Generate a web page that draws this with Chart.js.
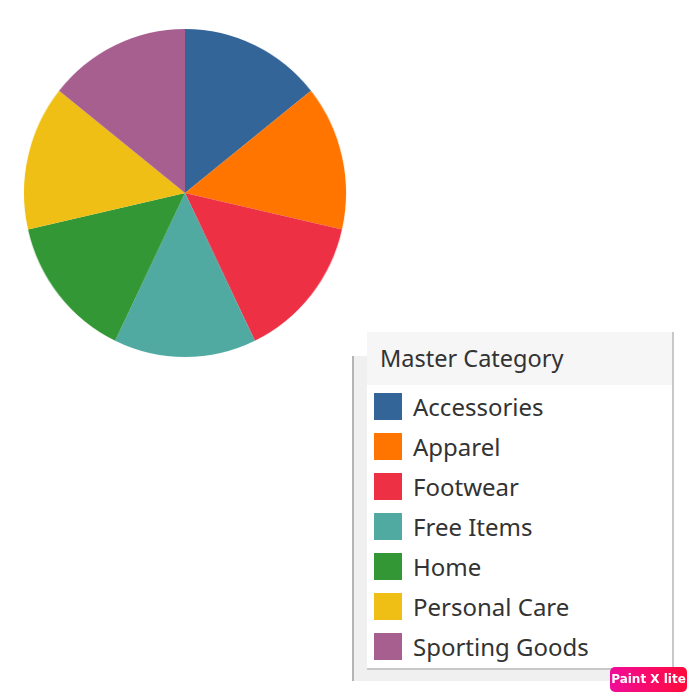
<!DOCTYPE html>
<html>
<head>
<meta charset="utf-8">
<script src="https://cdn.jsdelivr.net/npm/chart.js@4/dist/chart.umd.min.js"></script>
<style>
  html, body { margin: 0; padding: 0; background: #fff; width: 700px; height: 700px; overflow: hidden; }
  #wrap { position: relative; width: 700px; height: 700px; }
  #pie { position: absolute; left: 0; top: 0; width: 700px; height: 700px; transform: scaleX(0.982); transform-origin: 184.5px 193px; }
  #c { position: absolute; left: 0; top: 0; }
  #outer { position: absolute; left: 352px; top: 356px; width: 321px; height: 325px; background: #f0f0f0; border-left: 2px solid #b4b4b4; box-sizing: border-box; }
  #legend { position: absolute; left: 367px; top: 332px; width: 307px; height: 338px; background: #fff; border-right: 2px solid #c8c8c8; border-bottom: 2px solid #c8c8c8; box-sizing: border-box; font-family: "Noto Sans", sans-serif; color: #333; }
  #legend .title { height: 53px; background: #f6f6f6; font-size: 23.5px; line-height: 53px; padding-left: 13px; }
  #legend .item { position: absolute; left: 7px; height: 28px; }
  #legend .sw { position: absolute; left: 0; top: 0; width: 28px; height: 27px; }
  #legend .lb { position: absolute; left: 39px; top: -2px; font-size: 24px; line-height: 32px; white-space: nowrap; }
  #badge { position: absolute; left: 610px; top: 667px; width: 77px; height: 25px; border-radius: 5px; background: linear-gradient(90deg, #f00c9a, #ff0a3a); color: #fff; font: bold 12px "DejaVu Sans", sans-serif; text-align: center; line-height: 25px; }
</style>
</head>
<body>
<div id="wrap">
  <div id="pie"><canvas id="c" width="700" height="700"></canvas></div>
  <div id="outer"></div>
  <div id="legend"><div class="title">Master Category</div></div>
  <div id="badge">Paint X lite</div>
</div>
<script>
const categories = ["Accessories", "Apparel", "Footwear", "Free Items", "Home", "Personal Care", "Sporting Goods"];
const values = [1, 1, 1, 1, 1, 1, 1];
const colors = ["#346598", "#FF7500", "#EE3045", "#51AAA2", "#339735", "#EFBF15", "#A75F90"];
const legendTitle = "Master Category";

const ctx = document.getElementById('c').getContext('2d');
new Chart(ctx, {
  type: 'pie',
  data: {
    labels: categories,
    datasets: [{ data: values, backgroundColor: colors, borderWidth: 0 }]
  },
  options: {
    responsive: false,
    animation: false,
    layout: { padding: { left: 21, top: 29, right: 351, bottom: 343 } },
    plugins: { legend: { display: false }, tooltip: { enabled: false } }
  }
});

const lg = document.getElementById('legend');
lg.querySelector('.title').textContent = legendTitle;
categories.forEach((name, i) => {
  const it = document.createElement('div');
  it.className = 'item';
  it.style.top = (61 + i * 40) + 'px';
  const sw = document.createElement('div');
  sw.className = 'sw';
  sw.style.background = colors[i];
  const lb = document.createElement('div');
  lb.className = 'lb';
  lb.textContent = name;
  it.appendChild(sw); it.appendChild(lb);
  lg.appendChild(it);
});
</script>
</body>
</html>
